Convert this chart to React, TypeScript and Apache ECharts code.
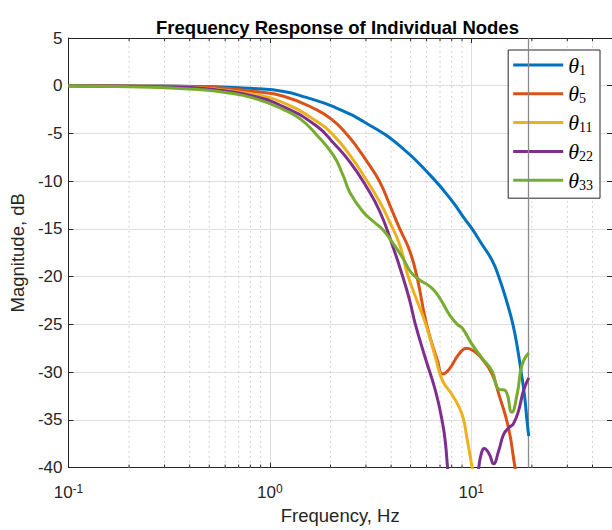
import React, { useEffect, useRef } from 'react';
import * as echarts from 'echarts';

const seriesNames = ['θ1', 'θ5', 'θ11', 'θ22', 'θ33'];
const seriesColors = ['#0072BD', '#D95319', '#EDB120', '#7E2F8E', '#77AC30'];

const theta1 = [
  [0.1, 0], [0.2, -0.02], [0.3, -0.04], [0.5, -0.1], [0.83, -0.3], [1.17, -0.6], [1.5, -1.2],
  [2.07, -2.2], [3.0, -3.9], [4.42, -6.3], [6.4, -9.6], [8.05, -12.1], [9.24, -13.9], [10.1, -15],
  [11.3, -16.6], [12.7, -18.3], [13.7, -20], [15, -22.6], [16.1, -25], [17, -27.6],
  [17.7, -30], [18.4, -32.5], [18.9, -35], [19.3, -36.7],
];
const theta5 = [
  [0.1, 0], [0.3, -0.05], [0.5, -0.15], [0.83, -0.6], [1.17, -1.1], [1.7, -2.5], [2.05, -3.6],
  [2.39, -5], [2.68, -6.3], [3.14, -8.4], [3.52, -10.1], [3.94, -12.5], [4.42, -15], [4.95, -17.3],
  [5.4, -20.2], [6.0, -25], [6.8, -28.8], [7.2, -30.2], [7.77, -29.7], [8.7, -28.1], [9.5, -27.5],
  [10.3, -27.8], [11.3, -28.6], [12.7, -30.2], [13.7, -32.3], [15.3, -35.8], [16.5, -40], [17.2, -42],
];
const theta11 = [
  [0.1, 0], [0.3, -0.08], [0.5, -0.3], [0.83, -0.9], [1.17, -1.8], [1.7, -3.7], [2.07, -5.2],
  [2.5, -7.3], [3.0, -9.8], [3.52, -12.2], [3.94, -14.3], [4.42, -16.7], [4.8, -19.6], [5.35, -22.4],
  [5.95, -25], [6.65, -28.5], [7.2, -30.9], [8.05, -32.4], [9.0, -34.4], [9.5, -36.8],
  [10.1, -40], [10.5, -42.5],
];
const theta22 = [
  [0.1, 0], [0.3, -0.1], [0.5, -0.35], [0.83, -1.1], [1.17, -2.2], [1.7, -4.2], [2.07, -6.0],
  [2.5, -8.0], [3.0, -10.5], [3.52, -13.2], [4.06, -16.7], [4.57, -20], [4.95, -22.5],
  [5.28, -25], [5.93, -28.6], [6.65, -32], [7.2, -35.3], [7.45, -37.5], [7.63, -40], [7.9, -43],
  [8.6, -47], [9.6, -47], [10.4, -43], [10.9, -40], [11.2, -38.6], [11.6, -38.0], [12.3, -38.6],
  [12.9, -39.6], [13.7, -38.2], [14.5, -36.5], [15.4, -35.8], [16.2, -35.4], [17.2, -34.0],
  [18.2, -31.9], [19.3, -30.6],
];
const theta33 = [
  [0.1, 0], [0.2, -0.1], [0.3, -0.2], [0.44, -0.4], [0.6, -0.7], [0.83, -1.3], [1.17, -2.5],
  [1.42, -3.5], [1.7, -5.1], [2.07, -7.3], [2.31, -9.4], [2.5, -11.2], [2.9, -13.2], [3.3, -14.3],
  [3.65, -15.1], [4.06, -16.4], [4.59, -18.1], [5.0, -19.5], [5.5, -20.3], [6.3, -21.1],
  [6.95, -22.2], [7.8, -24.0], [8.53, -25.0], [9.03, -25.4], [10.1, -27.1], [11.3, -28.5],
  [12.7, -29.9], [13.7, -31.8], [14.7, -31.9], [15.9, -34.2], [16.9, -32.3], [17.9, -29.2],
  [19.3, -28.0],
];
const seriesData = [theta1, theta5, theta11, theta22, theta33];

const minorFreqs = [0.2, 0.3, 0.4, 0.5, 0.6, 0.7, 0.8, 0.9, 2, 3, 4, 5, 6, 7, 8, 9, 20, 30, 40];
const markerFreq = 19.3;
const xMin = 0.1;
const xMax = 50;
const yMin = -40;
const yMax = 5;
const yStep = 5;

const FONT = "'Liberation Sans', Arial, Helvetica, sans-serif";
const AXIS_COLOR = '#262626';

export default function App() {
  const ref = useRef<HTMLDivElement>(null);
  useEffect(() => {
    if (!ref.current) return;
    const chart = echarts.init(ref.current, undefined, { renderer: 'svg' });
    const lineSeries = seriesNames.map((name, i) => ({
      name,
      type: 'line',
      data: seriesData[i],
      xAxisIndex: 0,
      yAxisIndex: 0,
      smooth: 0.5,
      symbol: 'none',
      showSymbol: false,
      clip: true,
      z: 5,
      lineStyle: { color: seriesColors[i], width: 3 },
      itemStyle: { color: seriesColors[i] },
      ...(i === 0
        ? {
            markLine: {
              silent: true,
              symbol: ['none', 'none'],
              label: { show: false },
              lineStyle: { color: '#8a8a8a', width: 1.3, type: 'solid' },
              data: [{ xAxis: markerFreq }],
            },
          }
        : {}),
    }));
    const option: any = {
      animation: false,
      backgroundColor: '#ffffff',
      title: {
        text: 'Frequency Response of Individual Nodes',
        left: 337.5,
        top: 18,
        padding: 0,
        textAlign: 'center',
        textStyle: { fontFamily: FONT, fontSize: 18.5, fontWeight: 'bold', color: '#000' },
      },
      grid: { left: 63, right: 0, top: 38, bottom: 59, containLabel: false },
      legend: {
        orient: 'vertical',
        right: 12,
        top: 50,
        icon: 'rect',
        itemWidth: 50,
        itemHeight: 3,
        itemGap: 5.8,
        itemTextGap: 4,
        padding: [4, 7, 6, 5],
        backgroundColor: '#ffffff',
        borderColor: AXIS_COLOR,
        borderWidth: 1,
        borderRadius: 0,
        data: seriesNames,
        formatter: (name: string) => `{t|θ}{s|${name.slice(1)}}`,
        textStyle: {
          rich: {
            t: { fontFamily: "'Liberation Serif', 'DejaVu Serif', serif", fontStyle: 'italic', fontSize: 22, lineHeight: 24, color: '#000' },
            s: { fontFamily: "'Liberation Serif', 'DejaVu Serif', serif", fontSize: 14, lineHeight: 14, verticalAlign: 'bottom', color: '#000' },
          },
        },
      },
      xAxis: [
        {
          type: 'log',
          logBase: 10,
          min: xMin,
          max: xMax,
          position: 'bottom',
          name: 'Frequency, Hz',
          nameLocation: 'middle',
          nameGap: 37,
          nameTextStyle: { fontFamily: FONT, fontSize: 18.5, color: '#262626' },
          axisLine: { show: true, onZero: false, lineStyle: { color: AXIS_COLOR, width: 1 } },
          axisTick: { show: true, inside: true, length: 5, lineStyle: { color: AXIS_COLOR } },
          splitLine: { show: true, lineStyle: { color: '#dedede', width: 1 } },
          axisLabel: {
            margin: 15,
            showMaxLabel: false,
            formatter: (v: number) => {
              const e = Math.log10(v);
              const r = Math.round(e);
              if (Math.abs(e - r) > 1e-6) return '';
              return `{b|10}{p|${r}}`;
            },
            rich: {
              b: { fontFamily: FONT, fontSize: 17, lineHeight: 20, color: '#262626' },
              p: { fontFamily: FONT, fontSize: 12, lineHeight: 12, verticalAlign: 'top', color: '#262626' },
            },
          },
        },
        {
          type: 'log',
          logBase: 10,
          min: xMin,
          max: xMax,
          position: 'top',
          axisLine: { show: true, onZero: false, lineStyle: { color: AXIS_COLOR, width: 1 } },
          axisTick: { show: true, inside: true, length: 5, lineStyle: { color: AXIS_COLOR } },
          splitLine: { show: false },
          axisLabel: { show: false },
        },
      ],
      yAxis: [
        {
          type: 'value',
          min: yMin,
          max: yMax,
          interval: yStep,
          position: 'left',
          name: 'Magnitude, dB',
          nameLocation: 'middle',
          nameGap: 38,
          nameTextStyle: { fontFamily: FONT, fontSize: 18.5, color: '#262626' },
          axisLine: { show: true, onZero: false, lineStyle: { color: AXIS_COLOR, width: 1 } },
          axisTick: { show: true, inside: true, length: 5, lineStyle: { color: AXIS_COLOR } },
          splitLine: { show: true, lineStyle: { color: '#dedede', width: 1 } },
          axisLabel: { margin: 6, fontFamily: FONT, fontSize: 17, color: '#262626' },
        },
        {
          type: 'value',
          min: yMin,
          max: yMax,
          interval: yStep,
          position: 'right',
          axisLine: { show: true, onZero: false, lineStyle: { color: AXIS_COLOR, width: 1 } },
          axisTick: { show: true, inside: true, length: 5, lineStyle: { color: AXIS_COLOR } },
          splitLine: { show: false },
          axisLabel: { show: false },
        },
      ],
      series: [
        {
          type: 'custom',
          name: 'minorGrid',
          xAxisIndex: 0,
          yAxisIndex: 0,
          silent: true,
          z: 1,
          data: minorFreqs.map((f) => [f, yMin]),
          encode: { x: 0, y: 1 },
          renderItem: (_params: any, api: any) => {
            const f = api.value(0);
            const b = api.coord([f, yMin]);
            const t = api.coord([f, yMax]);
            return {
              type: 'group',
              children: [
                {
                  type: 'line',
                  shape: { x1: b[0], y1: b[1], x2: t[0], y2: t[1] },
                  style: { stroke: '#c4c4c4', lineWidth: 1, lineDash: [1.5, 3.5] },
                },
                {
                  type: 'line',
                  shape: { x1: b[0], y1: b[1], x2: b[0], y2: b[1] - 3 },
                  style: { stroke: AXIS_COLOR, lineWidth: 1 },
                },
                {
                  type: 'line',
                  shape: { x1: t[0], y1: t[1], x2: t[0], y2: t[1] + 3 },
                  style: { stroke: AXIS_COLOR, lineWidth: 1 },
                },
              ],
            };
          },
        },
        ...lineSeries,
      ],
    };
    chart.setOption(option);
    return () => chart.dispose();
  }, []);
  return (
    <div
      ref={ref}
      style={{ position: 'absolute', left: 0, top: 0, width: 612, height: 530, background: '#fff' }}
    />
  );
}
